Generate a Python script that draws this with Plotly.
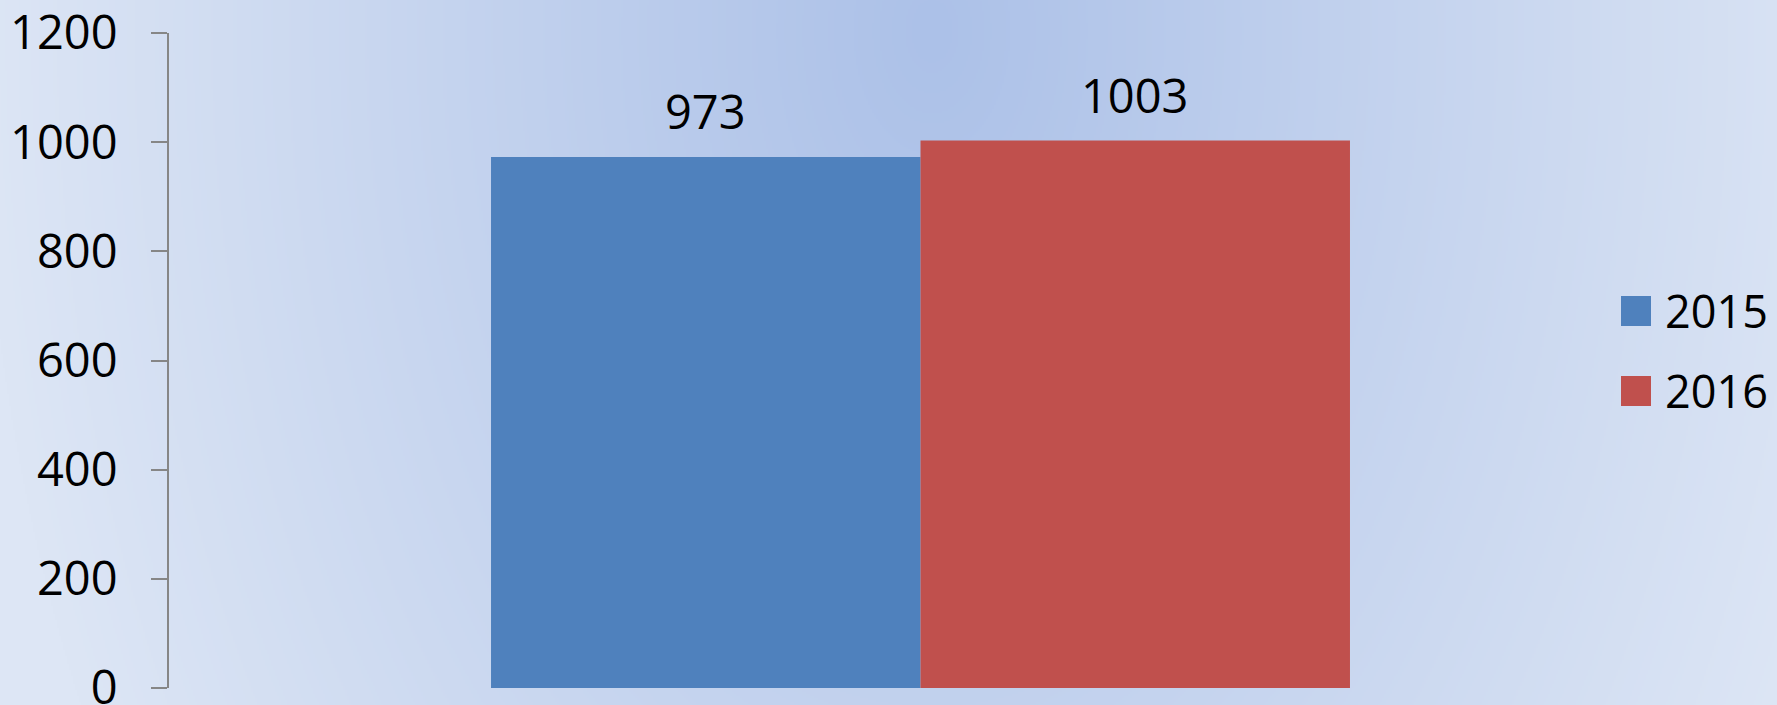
import base64, struct, zlib
import numpy as np
import plotly.graph_objects as go

# ---- data ----
categories = ["Total"]
series_names = ["2015", "2016"]
series_values = [[973], [1003]]
series_colors = ["#4f81bd", "#c0504d"]
y_ticks = [0, 200, 400, 600, 800, 1000, 1200]

# ---- geometry ----
W, H = 1777, 705
ML, MR, MT, MB = 169, 105, 33, 17
PW, PH = W - ML - MR, H - MT - MB
FONT = "Open Sans"
FS = 47


def px_x(px):
    return (px - ML) / PW


def px_y(py):
    return 1 - (py - MT) / PH


def gradient_png():
    sc = 2
    w, h = W // sc, H // sc
    yy, xx = np.mgrid[0:h, 0:w].astype(float)
    xx *= sc
    yy *= sc
    t = np.sqrt(((xx - 930) / 950) ** 2 + ((yy - 30) / 1500) ** 2)
    t = np.clip(t, 0, 1)
    c0 = np.array([172, 193, 232], float)
    c1 = np.array([221, 230, 245], float)
    img = (c0[None, None, :] + (c1 - c0)[None, None, :] * t[..., None]).astype(np.uint8)
    raw = b"".join(b"\x00" + img[i].tobytes() for i in range(h))

    def chunk(tag, data):
        return struct.pack(">I", len(data)) + tag + data + struct.pack(">I", zlib.crc32(tag + data) & 0xffffffff)

    png = b"\x89PNG\r\n\x1a\n" + chunk(b"IHDR", struct.pack(">IIBBBBB", w, h, 8, 2, 0, 0, 0)) \
        + chunk(b"IDAT", zlib.compress(raw, 9)) + chunk(b"IEND", b"")
    return "data:image/png;base64," + base64.b64encode(png).decode()


fig = go.Figure()
for name, vals, col in zip(series_names, series_values, series_colors):
    fig.add_trace(go.Bar(x=categories, y=vals, name=name, marker=dict(color=col, line=dict(width=0)),
                         showlegend=False, hoverinfo="skip"))

# data labels
BARGAP = 0.4285
group_w = PW * (1 - BARGAP)
n = len(series_names)
annotations = []
for i, (name, vals) in enumerate(zip(series_names, series_values)):
    shift = (i - (n - 1) / 2) * group_w / n
    for c, v in zip(categories, vals):
        annotations.append(dict(x=c, y=v, xref="x", yref="y", text=str(v), showarrow=False,
                                xshift=shift, yshift=12, yanchor="bottom",
                                font=dict(family=FONT, size=FS, color="black")))

# manual legend (large squares)
shapes = []
for i, (name, col) in enumerate(zip(series_names, series_colors)):
    top = 296 + i * 80
    shapes.append(dict(type="rect", xref="paper", yref="paper", x0=px_x(1621), x1=px_x(1651),
                       y0=px_y(top + 30), y1=px_y(top), fillcolor=col, line=dict(width=0)))
    annotations.append(dict(x=px_x(1663), y=px_y(top + 14), xref="paper", yref="paper", text=name,
                            showarrow=False, xanchor="left", yanchor="middle",
                            font=dict(family=FONT, size=45, color="black")))

fig.update_layout(
    width=W, height=H,
    margin=dict(l=ML, r=MR, t=MT, b=MB, pad=0, autoexpand=False),
    barmode="group", bargap=BARGAP, bargroupgap=0,
    paper_bgcolor="#c6d4ee", plot_bgcolor="rgba(0,0,0,0)",
    showlegend=False,
    font=dict(family=FONT, size=FS, color="black"),
    xaxis=dict(visible=False, type="category", range=[-0.5, 0.5], automargin=False),
    yaxis=dict(range=[0, 1200], tickvals=y_ticks, showgrid=False, zeroline=False,
               showline=True, linecolor="#868686", linewidth=2,
               ticks="outside", ticklen=16, tickwidth=2, tickcolor="#868686",
               ticklabelstandoff=24, automargin=False, ticklabeloverflow="allow",
               tickfont=dict(family=FONT, size=FS, color="black")),
    annotations=annotations,
    shapes=shapes,
    images=[dict(source=gradient_png(), xref="paper", yref="paper",
                 x=-ML / PW, y=1 + MT / PH, sizex=W / PW, sizey=H / PH,
                 xanchor="left", yanchor="top", sizing="stretch", layer="below")],
)

fig.write_html("out.html", config={"displayModeBar": False, "staticPlot": True},
               post_script="document.body.style.margin='0';document.body.style.overflow='hidden';")
